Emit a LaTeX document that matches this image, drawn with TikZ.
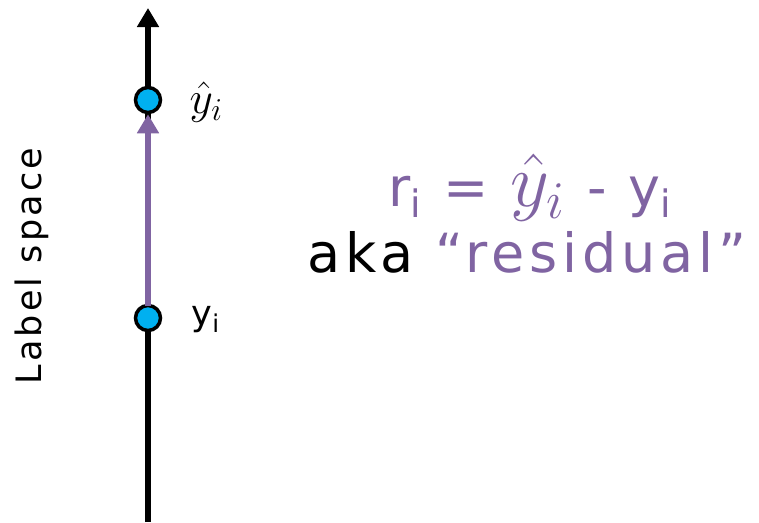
\RequirePackage{fix-cm}
\documentclass[tikz,border=0pt]{standalone}
\usepackage{amsmath}
\usepackage{fontspec}
\setmainfont{DejaVu Sans}
\newfontfamily\spacedfont[LetterSpace=9]{DejaVu Sans}
\usetikzlibrary{arrows.meta, positioning}
\definecolor{resid}{HTML}{8064A2}
\definecolor{dotblue}{HTML}{00B0F0}
\newcommand{\yhat}[1]{\scalebox{#1}{$\hat{y}_{i}$}}

\tikzset{
  point/.style={circle, draw=black, line width=3.5pt, fill=dotblue, minimum size=25pt, inner sep=0pt},
  axis/.style={line width=6pt, -{Triangle[width=21pt, length=19pt]}},
  resarrow/.style={resid, line width=6pt, shorten <=-2pt, -{Triangle[width=21pt, length=19pt]}},
  ptlabel/.style={font=\spacedfont\fontsize{35}{40}\selectfont, anchor=west}
}

\begin{document}
\begin{tikzpicture}[x=1pt, y=-1pt]
  \useasboundingbox (0,0) rectangle (759,522);
  % label axis
  \coordinate (bottom) at (148,522);
  \coordinate (top) at (148,8);
  \draw[axis] (bottom) -- (top);
  \node[rotate=90, font=\spacedfont\fontsize{35}{40}\selectfont] (axislabel) at (32,266) {Label space};
  % the two values
  \node[point] (yhat) at (148,100) {};
  \node[point] (ytrue) at (148,318) {};
  \draw[resarrow] (ytrue) -- (yhat);
  \node[ptlabel] (yhatlabel) at (186,102) {\yhat{1.3}};
  \node[ptlabel] (ytruelabel) at (188,320) {y\textsubscript{i}};
  % residual text
  \node[text=resid, font=\spacedfont\fontsize{54}{60}\selectfont] (formula) at (530,188) {r\textsubscript{i} = \yhat{1.4} - y\textsubscript{i}};
  \node[font=\spacedfont\fontsize{54}{60}\selectfont] (aka) at (527,252) {aka \textcolor{resid}{“residual”}};
\end{tikzpicture}
\end{document}
